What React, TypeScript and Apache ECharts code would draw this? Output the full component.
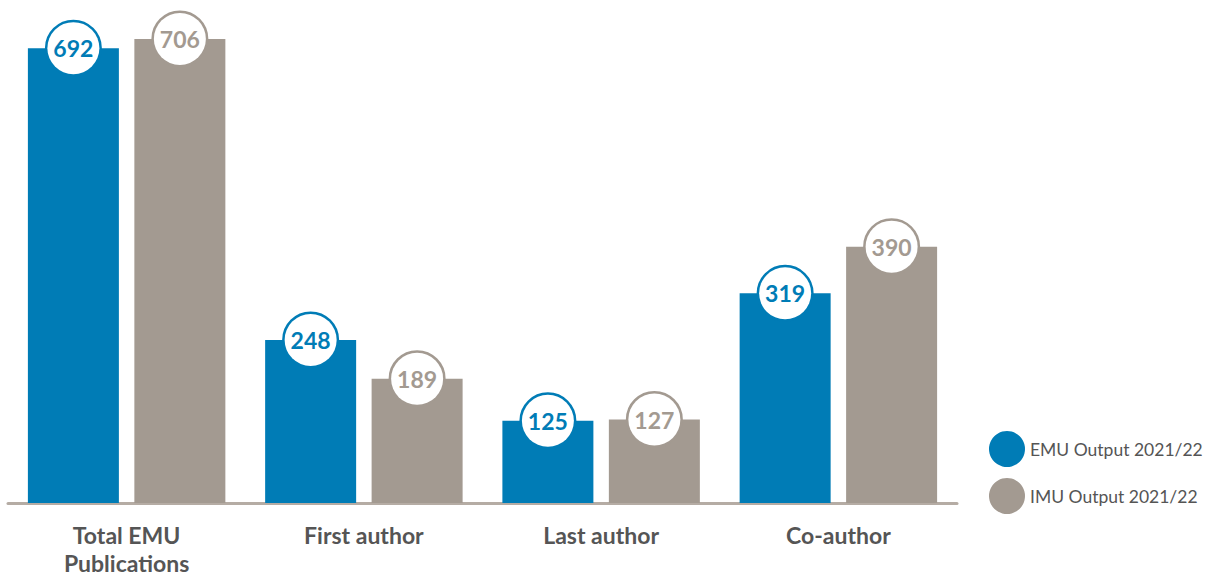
import React, { useEffect, useRef } from "react";
import * as echarts from "echarts";

const categories = ["Total EMU\nPublications", "First author", "Last author", "Co-author"];
const emuValues = [692, 248, 125, 319];
const imuValues = [706, 189, 127, 390];
const seriesNames = ["EMU Output 2021/22", "IMU Output 2021/22"];

const BLUE = "#007CB6";
const GRAY = "#A39A91";
const FONT = "Lato, 'Open Sans', sans-serif";

function labelFor(color: string) {
  return {
    show: true,
    position: "top",
    distance: 0,
    formatter: "{c}",
    color,
    fontFamily: FONT,
    fontWeight: "bold",
    fontSize: 23,
    backgroundColor: "#fff",
    borderColor: color,
    borderWidth: 2.5,
    borderRadius: 28,
    width: 52,
    height: 52,
    lineHeight: 52,
    align: "center",
    verticalAlign: "middle",
  };
}

export default function App() {
  const ref = useRef<HTMLDivElement>(null);
  useEffect(() => {
    if (!ref.current) return;
    const chart = echarts.init(ref.current, null, { renderer: "svg" });
    chart.setOption({
      animation: false,
      grid: { left: 8, right: 254, top: 10, bottom: 72, containLabel: false },
      legend: {
        orient: "vertical",
        left: 984,
        top: 426,
        itemWidth: 36,
        itemHeight: 36,
        itemGap: 11,
        icon: "circle",
        textStyle: { color: "#555", fontSize: 17.5, fontFamily: FONT },
        data: seriesNames,
      },
      xAxis: {
        type: "category",
        data: categories,
        axisLine: { show: true, lineStyle: { color: "#B5ACA4", width: 3 } },
        axisTick: { show: false },
        axisLabel: {
          color: "#555",
          fontFamily: FONT,
          fontWeight: "bold",
          fontSize: 23,
          lineHeight: 28,
          margin: 18,
        },
      },
      yAxis: {
        type: "value",
        min: 0,
        max: 750,
        show: false,
        splitLine: { show: false },
      },
      series: [
        {
          name: seriesNames[0],
          type: "bar",
          data: emuValues,
          barWidth: 91,
          barGap: "17%",
          itemStyle: { color: BLUE },
          label: labelFor(BLUE),
        },
        {
          name: seriesNames[1],
          type: "bar",
          data: imuValues,
          barWidth: 91,
          itemStyle: { color: GRAY },
          label: labelFor(GRAY),
        },
      ],
    });
    return () => chart.dispose();
  }, []);
  return <div ref={ref} style={{ width: 1211, height: 577, position: "absolute", left: 0, top: 0, background: "#fff" }} />;
}
